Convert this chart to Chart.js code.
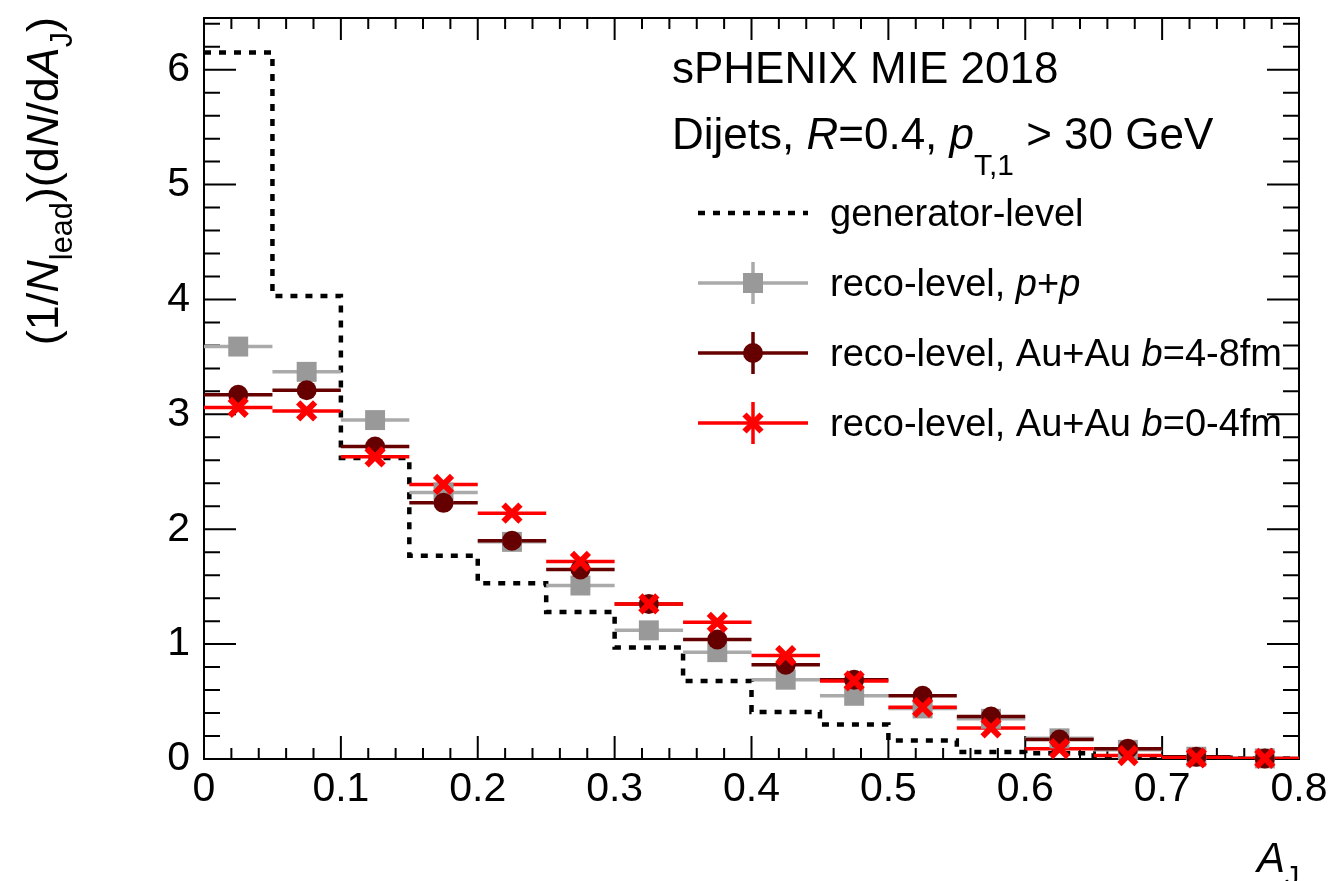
<!DOCTYPE html>
<html><head><meta charset="utf-8">
<script src="https://cdn.jsdelivr.net/npm/chart.js@4.4.0/dist/chart.umd.min.js"></script>
<style>html,body{margin:0;padding:0;background:#fff;}canvas{display:block}</style>
</head><body>
<canvas id="c" width="1340" height="881"></canvas>
<script>
// ---- data ----
const binEdges   = [0,0.05,0.1,0.15,0.2,0.25,0.3,0.35,0.4,0.45,0.5,0.55,0.6,0.65,0.7,0.75,0.8];
const binCenters = [0.025,0.075,0.125,0.175,0.225,0.275,0.325,0.375,0.425,0.475,0.525,0.575,0.625,0.675,0.725,0.775];
const genLevel   = [6.15,4.03,2.62,1.77,1.53,1.28,0.97,0.68,0.41,0.30,0.16,0.06,0.05,0.02,0.01,0.005];
const recoPP     = [3.59,3.37,2.95,2.32,1.89,1.51,1.12,0.93,0.69,0.55,0.44,0.35,0.18,0.08,0.02,0.005];
const recoAuAu48 = [3.17,3.21,2.72,2.23,1.90,1.65,1.35,1.04,0.82,0.69,0.55,0.37,0.17,0.09,0.02,0.005];
const recoAuAu04 = [3.06,3.03,2.63,2.39,2.14,1.72,1.35,1.19,0.90,0.68,0.45,0.27,0.09,0.03,0.01,0.005];
const xTickValues = [0,0.1,0.2,0.3,0.4,0.5,0.6,0.7,0.8];
const yTickValues = [0,1,2,3,4,5,6];
const xRange = [0,0.8];
const yRange = [0,6.45];

// ---- helpers to build library data ----
const stepData = binEdges.map((e,i)=>({x:e, y:genLevel[Math.min(i,genLevel.length-1)]}));
function hbars(vals){
  const out=[];
  vals.forEach((v,i)=>{ out.push({x:binEdges[i],y:v},{x:binEdges[i+1],y:v},{x:binEdges[i+1],y:null}); });
  return out;
}
function pts(vals){ return vals.map((v,i)=>({x:binCenters[i],y:v})); }

const FONT = "'Liberation Sans', Arial, Helvetica, sans-serif";
const C_GRAY='#999999', C_GRAYL='#aaaaaa', C_DARK='#660000', C_RED='#ff0000';

function fontStr(size, italic){ return (italic?'italic ':'')+size+'px '+FONT; }
function drawRich(ctx, parts, x, y, size, subOff){
  let cx = x;
  for (const [t, st] of parts){
    const it = st.includes('i');
    const sub = st.includes('sub');
    const s = sub ? size*0.68 : size;
    ctx.font = fontStr(s, it);
    ctx.fillText(t, cx, sub ? y + size*subOff : y);
    cx += ctx.measureText(t).width;
  }
  return cx - x;
}
function richWidth(ctx, parts, size){
  let w=0;
  for (const [t, st] of parts){
    const s = st.includes('sub') ? size*0.68 : size;
    ctx.font = fontStr(s, st.includes('i'));
    w += ctx.measureText(t).width;
  }
  return w;
}

const framePlugin = {
  id:'frame',
  beforeDatasetsDraw(chart){
    const {ctx, chartArea:a, scales:{x,y}} = chart;
    ctx.save();
    ctx.strokeStyle='#000'; ctx.lineWidth=2; ctx.lineCap='butt';
    ctx.strokeRect(a.left, a.top, a.right-a.left, a.bottom-a.top);
    ctx.beginPath();
    for (let k=0;k<=40;k++){
      const v=k*0.02; if (v>xRange[1]+1e-9) break;
      const px=x.getPixelForValue(v);
      const major = (k%5===0);
      const Lb = major?23:11, Lt = major?22:11;
      ctx.moveTo(px,a.bottom); ctx.lineTo(px,a.bottom-Lb);
      ctx.moveTo(px,a.top); ctx.lineTo(px,a.top+Lt);
    }
    for (let k=0;k<=40;k++){
      const v=k*0.2; if (v>yRange[1]+1e-9) break;
      const py=y.getPixelForValue(v);
      const L = (k%5===0)?32:16;
      ctx.moveTo(a.left,py); ctx.lineTo(a.left+L,py);
      ctx.moveTo(a.right,py); ctx.lineTo(a.right-L,py);
    }
    ctx.stroke();
    ctx.restore();
  },
  afterDraw(chart){
    const ctx = chart.ctx;
    ctx.save();
    ctx.fillStyle='#000'; ctx.textBaseline='alphabetic'; ctx.textAlign='left';
    // header texts
    drawRich(ctx, [['sPHENIX MIE 2018','']], 672, 83, 44, 0);
    drawRich(ctx, [['Dijets, ',''],['R','i'],['=0.4, ',''],['p','i'],['T,1','sub'],[' > 30 GeV','']], 672, 149, 44, 0.6);
    // legend
    const lx0=698, lx1=808, lxc=753, tx=830, ls=38;
    const rows=[213,283,353,423];
    ctx.strokeStyle='#000'; ctx.lineWidth=4.5; ctx.setLineDash([7,8]);
    ctx.beginPath(); ctx.moveTo(lx0,rows[0]); ctx.lineTo(lx1,rows[0]); ctx.stroke();
    ctx.setLineDash([]);
    function errLeg(y,col){
      ctx.strokeStyle=col; ctx.lineWidth=3.5;
      ctx.beginPath(); ctx.moveTo(lx0,y); ctx.lineTo(lx1,y); ctx.moveTo(lxc,y-21); ctx.lineTo(lxc,y+21); ctx.stroke();
    }
    errLeg(rows[1],C_GRAYL);
    ctx.fillStyle=C_GRAY; ctx.fillRect(lxc-10,rows[1]-10,20,20);
    errLeg(rows[2],C_DARK);
    ctx.fillStyle=C_DARK; ctx.beginPath(); ctx.arc(lxc,rows[2],10,0,Math.PI*2); ctx.fill();
    errLeg(rows[3],C_RED);
    ctx.strokeStyle=C_RED; ctx.lineWidth=6; ctx.beginPath();
    ctx.moveTo(lxc-8.5,rows[3]-8.5); ctx.lineTo(lxc+8.5,rows[3]+8.5);
    ctx.moveTo(lxc+8.5,rows[3]-8.5); ctx.lineTo(lxc-8.5,rows[3]+8.5); ctx.stroke();
    ctx.fillStyle='#000';
    drawRich(ctx, [['generator-level','']], tx, rows[0]+13, ls, 0);
    drawRich(ctx, [['reco-level, ',''],['p','i'],['+',''],['p','i']], tx, rows[1]+13, ls, 0);
    drawRich(ctx, [['reco-level, Au+Au ',''],['b','i'],['=4-8fm','']], tx, rows[2]+13, ls, 0);
    drawRich(ctx, [['reco-level, Au+Au ',''],['b','i'],['=0-4fm','']], tx, rows[3]+13, ls, 0);
    // x title
    drawRich(ctx, [['A','i'],['J','sub']], 1257, 872, 42, 0.3);
    // y title (rotated)
    const yparts=[['(1/',''],['N','i'],['lead','sub'],[')(d',''],['N','i'],['/d',''],['A','i'],['J','sub'],[')','']];
    const w = richWidth(ctx, yparts, 45);
    ctx.translate(58, 17); ctx.rotate(-Math.PI/2);
    drawRich(ctx, yparts, -w, 0, 45, 0.3);
    ctx.restore();
  }
};

Chart.defaults.font.family = FONT;
Chart.defaults.color = '#000';

new Chart(document.getElementById('c'), {
  type:'line',
  data:{ datasets:[
    {label:'generator-level', data:stepData, stepped:'before', borderColor:'#000', borderWidth:4.5, borderDash:[7,8], pointRadius:0, fill:false, order:10},
    {label:'pp-bars', data:hbars(recoPP), borderColor:C_GRAYL, borderWidth:3.5, pointRadius:0, spanGaps:false, order:9},
    {label:'aa48-bars', data:hbars(recoAuAu48), borderColor:C_DARK, borderWidth:3.5, pointRadius:0, spanGaps:false, order:8},
    {label:'aa04-bars', data:hbars(recoAuAu04), borderColor:C_RED, borderWidth:3.5, pointRadius:0, spanGaps:false, order:7},
    {label:'reco-level, p+p', data:pts(recoPP), showLine:false, pointStyle:'rect', pointRadius:14.1, backgroundColor:C_GRAY, borderColor:C_GRAY, pointBorderWidth:0, clip:false, order:3},
    {label:'reco-level, Au+Au b=4-8fm', data:pts(recoAuAu48), showLine:false, pointStyle:'circle', pointRadius:10, backgroundColor:C_DARK, borderColor:C_DARK, pointBorderWidth:0, clip:false, order:2},
    {label:'reco-level, Au+Au b=0-4fm', data:pts(recoAuAu04), showLine:false, pointStyle:'crossRot', pointRadius:12, backgroundColor:C_RED, borderColor:C_RED, pointBorderWidth:6, clip:false, order:1}
  ]},
  options:{
    responsive:false, animation:false, devicePixelRatio:1, events:[],
    layout:{padding:{left:0,top:17,right:41,bottom:0}},
    plugins:{legend:{display:false}, tooltip:{enabled:false}},
    scales:{
      x:{type:'linear', min:xRange[0], max:xRange[1],
         grid:{display:false, drawTicks:false}, border:{display:false},
         afterBuildTicks(s){ s.ticks = xTickValues.map(v=>({value:v})); },
         ticks:{font:{size:41}, color:'#000', padding:6, maxRotation:0, autoSkip:false,
                callback:(v)=>String(Number(v.toFixed(2)))},
         afterFit(s){ s.height=122; s.paddingLeft=0; s.paddingRight=0; s.paddingTop=0; s.paddingBottom=0; }},
      y:{type:'linear', min:yRange[0], max:yRange[1],
         grid:{display:false, drawTicks:false}, border:{display:false},
         afterBuildTicks(s){ s.ticks = yTickValues.map(v=>({value:v})); },
         ticks:{font:{size:41}, color:'#000', padding:14, autoSkip:false,
                callback:(v)=>String(v)},
         afterFit(s){ s.width=204; s.paddingLeft=0; s.paddingRight=0; s.paddingTop=0; s.paddingBottom=0; }}
    }
  },
  plugins:[framePlugin]
});
</script>
</body></html>
